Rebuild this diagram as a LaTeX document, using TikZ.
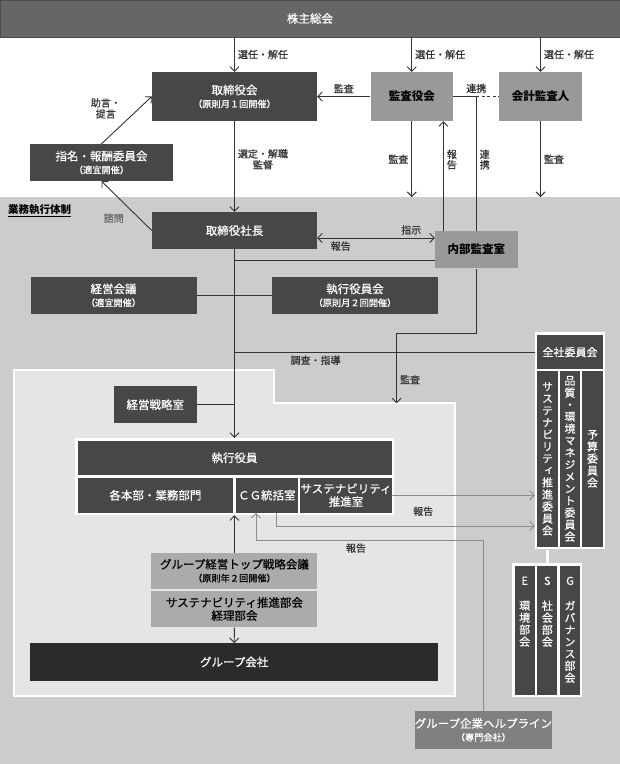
\documentclass[tikz,border=0pt]{standalone}
\usepackage{fontspec}
\setmainfont{Noto Sans CJK JP}
\newfontfamily\medfont[FakeBold=0.6]{Noto Sans CJK JP}
\newfontfamily\vfont[RawFeature=+vert,FakeBold=0.6]{Noto Sans CJK JP}
\usetikzlibrary{arrows.meta}
\newcommand\subnote[1]{\\{\fontsize{9.2}{11}\selectfont #1}}

\begin{document}
\begin{tikzpicture}[x=1pt,y=-1pt,
   >={Straight Barb[length=4.5pt,width=9pt]},
   every node/.style={inner sep=0pt,align=center},
   dark/.style={fill=black!72,text=white,font=\medfont\fontsize{11.5}{13}\selectfont},
   light/.style={fill=black!40,text=black,font=\bfseries\fontsize{11.5}{13}\selectfont},
   mid/.style={fill=black!33,text=black,font=\medfont\fontsize{11.5}{13}\selectfont},
   col/.style={fill=black!72,text=white,minimum width=20.5pt,font=\vfont\fontsize{11}{12}\selectfont},
   wframe/.style={fill=white},
   lbl/.style={text=black!80,inner sep=3pt,font=\medfont\fontsize{10}{11}\selectfont},
   link/.style={draw=black!80,line width=0.9pt},
   greylink/.style={draw=black!45,line width=0.9pt}]
\useasboundingbox (0,0) rectangle (620,764);
\fill[white] (0,0) rectangle (620,764);
% execution area and group area
\fill[black!20] (0,197) rectangle (620,764);
\filldraw[fill=black!10,draw=white,line width=2pt] (13.8,370) -- (274,370) -- (274,403.3)
   -- (454.7,403.3) -- (454.7,696) -- (13.8,696) -- cycle;
\coordinate (exectop) at (0,197);
\node[text=black,anchor=west,font=\bfseries\fontsize{10.5}{12}\selectfont] (exectitle) at (8,211) {\underline{業務執行体制}};

\node[fill=black!60,draw=black!70,text=white,minimum width=620pt,minimum height=37pt,font=\medfont\fontsize{11.5}{13}\selectfont] (gm) at (310,18.5) {株主総会};
\node[dark,minimum width=165pt,minimum height=49pt] (board) at (234.5,96.5) {取締役会\subnote{（原則月１回開催）}};
\node[light,minimum width=82.5pt,minimum height=49pt] (audit) at (411.75,96.5) {監査役会};
\node[light,minimum width=83pt,minimum height=49pt] (extaud) at (540.5,96.5) {会計監査人};
\node[dark,minimum width=143pt,minimum height=37pt] (nomcom) at (101.5,162.5) {指名・報酬委員会\subnote{（適宜開催）}};
\node[dark,minimum width=165pt,minimum height=37pt] (pres) at (234.5,230.6) {取締役社長};
\node[light,minimum width=82.6pt,minimum height=37.6pt] (inaudit) at (476.3,249.5) {内部監査室};
\node[dark,minimum width=166pt,minimum height=37.3pt] (mgmt) at (113.5,295.3) {経営会議\subnote{（適宜開催）}};
\node[dark,minimum width=166pt,minimum height=37.3pt] (execboard) at (355,295.3) {執行役員会\subnote{（原則月２回開催）}};
\node[dark,minimum width=82.5pt,minimum height=37.3pt] (strat) at (155.25,404.7) {経営戦略室};

% officers block
\node[wframe,minimum width=319pt,minimum height=77pt] (offframe) at (234.5,476.5) {};
\node[dark,minimum width=314pt,minimum height=34.3pt] (officers) at (234.5,457.85) {執行役員};
\node[dark,minimum width=155.8pt,minimum height=35pt] (divs) at (155.4,495.2) {各本部・業務部門};
\node[dark,minimum width=61.7pt,minimum height=35pt] (cgo) at (266.85,495.2) {ＣＧ統括室};
\node[dark,minimum width=91pt,minimum height=35pt] (suso) at (346,495.2) {サステナビリティ\\推進室};

\node[mid,minimum width=166pt,minimum height=36pt] (topmtg) at (234.45,570.7) {グループ経営トップ戦略会議\subnote{（原則年２回開催）}};
\node[mid,minimum width=166pt,minimum height=36.6pt] (susdept) at (234.45,609) {サステナビリティ推進部会\\経理部会};
\node[dark,fill=black!83,minimum width=407.6pt,minimum height=37.4pt] (grp) at (234.2,662) {グループ会社};
\node[fill=black!50,text=white,minimum width=134.8pt,minimum height=37.7pt,font=\medfont\fontsize{11.5}{13}\selectfont] (help) at (483.4,729.85) {グループ企業ヘルプライン\subnote{（専門会社）}};

% committees
\node[wframe,minimum width=70pt,minimum height=217pt] (comframe) at (570,440.8) {};
\node[dark,minimum width=65.5pt,minimum height=34.3pt,font=\medfont\fontsize{11}{13}\selectfont] (allcom) at (570,352.15) {全社委員会};
\foreach \x/\t [count=\n] in {547.5/{サ\\ス\\テ\\ナ\\ビ\\リ\\テ\\ィ\\推\\進\\委\\員\\会},
      570/{品\\質\\・\\環\\境\\マ\\ネ\\ジ\\メ\\ン\\ト\\委\\員\\会},592.5/{予\\算\\委\\員\\会}}
   \node[col,minimum height=175.7pt](com\n) at (\x,458.85) {\t};
\node[wframe,minimum width=70pt,minimum height=134.6pt] (esgframe) at (547.3,630) {};
\foreach \x/\t [count=\n] in {524.7/{E\\[13pt]環\\境\\部\\会},547.3/{S\\[13pt]社\\会\\部\\会},570/{G\\[13pt]ガ\\バ\\ナ\\ン\\ス\\部\\会}}
   \node[col,minimum width=20pt,minimum height=129pt,
      label={[anchor=north,yshift=-11pt,text=white,font=\vfont\fontsize{11}{12}\selectfont]north:\t}](esg\n) at (\x,630.2) {};
\draw[white,line width=2.5pt] (comframe.south -| com1) -- (esgframe.north -| com1);

% shareholders
\draw[link,->] (gm.south -| board) -- node[lbl,right]{選任・解任} (board.north);
\draw[link,->] (gm.south -| audit) -- node[lbl,right]{選任・解任} (audit.north);
\draw[link,->] (gm.south -| extaud) -- node[lbl,right]{選任・解任} (extaud.north);
% audit lines
\draw[link,->] (audit.west) -- node[lbl,above]{監査} (board.east);
\draw[link] (audit.east) -- (inaudit |- audit.east) node[lbl,above]{連携};
\draw[link,dash pattern=on 3pt off 2.5pt] (inaudit |- audit.east) -- (extaud.west);
\draw[link] (inaudit.north) -- node[lbl,right,pos=0.53,font=\medfont\fontsize{10}{10.5}\selectfont]{連\\携} (inaudit |- audit.east);
\coordinate (rep) at ([xshift=8.6pt]inaudit.north west);
\draw[link,->] (rep) -- node[lbl,right,pos=0.65,font=\medfont\fontsize{10}{10.5}\selectfont]{報\\告} (rep |- audit.south);
\draw[link,->] (audit.south) -- node[lbl,left]{監査} (audit |- exectop);
\draw[link,->] (extaud.south) -- node[lbl,right]{監査} (extaud |- exectop);
% board and president
\draw[link,->] (nomcom.north) -- node[lbl,pos=0.75,left=15pt]{助言・\\提言} (board.west);
\draw[link,->] (pres.west) -- node[lbl,pos=0.25,left=12pt,text=black!60]{諮問} (nomcom.south);
\draw[link,->] (board.south) -- node[lbl,right,pos=0.42]{選定・解職\\監督} (pres.north);
\draw[link,<->] ([yshift=-7.4pt]pres.east) -- node[lbl,above,pos=0.8]{指示} node[lbl,below,pos=0.2]{報告} ([yshift=-7.4pt]pres.east -| inaudit.west);
\draw[link] ([yshift=-10.8pt]inaudit.west) -- ([yshift=-10.8pt]inaudit.west -| pres.south);
\draw[link,->] (pres.south) -- (offframe.north);
\draw[link] (mgmt.east) -- (execboard.west);
\draw[link] (strat.east) -- (strat.east -| pres.south);
\draw[link] (comframe.west |- allcom) -- node[lbl,below,pos=0.73]{調査・指導} (pres |- allcom);
\coordinate (auditin) at (396.6,403.3);
\draw[link,->] (inaudit.south) -- ++(0,65) -| node[lbl,right,pos=0.83]{監査} (auditin);
% reports to committees
\draw[greylink,->] (suso.east) -- node[lbl,below=8pt,pos=0.22]{報告} (suso.east -| comframe.west);
\coordinate (cgturn) at (276.8,526);
\draw[greylink,->] (cgturn |- cgo.south) -- (cgturn) -- (cgturn -| comframe.west);
\coordinate (hlturn) at (256,540);
\draw[greylink,->] (help.north) |- node[lbl,below,pos=0.78]{報告} (hlturn) -- (hlturn |- cgo.south);
% group
\draw[link,->] (topmtg.north) -- (topmtg.north |- offframe.south);
\draw[link,->] (susdept.south) -- (grp.north);

\end{tikzpicture}
\end{document}
